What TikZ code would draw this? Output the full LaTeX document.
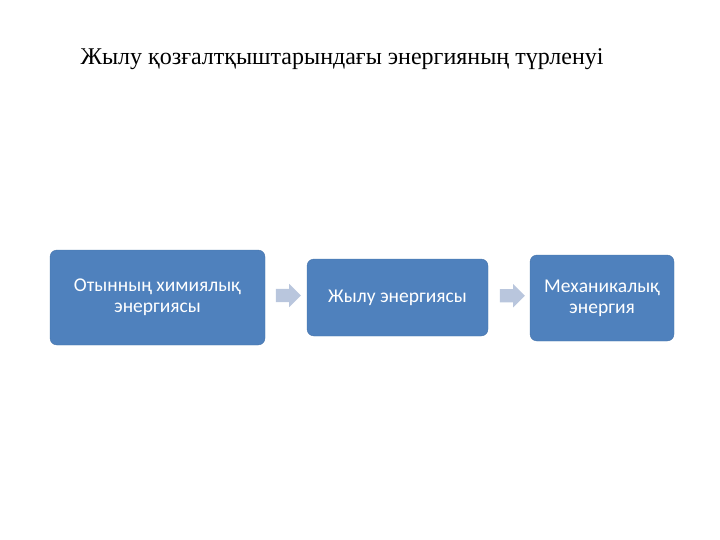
\documentclass[tikz,border=0pt]{standalone}
\usepackage{fontspec}
\setmainfont{Liberation Serif}
\newfontfamily\boxfont{Carlito}
\usetikzlibrary{shapes.arrows,calc}
\definecolor{boxblue}{HTML}{4F81BD}
\definecolor{arrowblue}{HTML}{B9C6DD}
\begin{document}
\begin{tikzpicture}[x=1pt,y=-1pt,
  procbox/.style={fill=boxblue,draw=boxblue!90!black,line width=0.4pt,rounded corners=7pt,text=white,font=\boxfont\fontsize{19.5}{21}\selectfont,align=center,inner sep=0pt},
  flowarrow/.style={single arrow,fill=arrowblue,draw=none,minimum height=25pt,inner xsep=0pt,inner ysep=6.5pt,single arrow head extend=5pt,shape border rotate=0}]
\useasboundingbox (0,0) rectangle (720,540);
\node[anchor=base west,font=\fontsize{24}{28}\selectfont] (title) at (77,65) {Жылу қозғалтқыштарындағы энергияның түрленуі};
\node[procbox,minimum width=215pt,minimum height=95pt] (b1) at (157.5,297.5) {Отынның химиялық\\энергиясы};
\node[procbox,minimum width=181pt,minimum height=77pt] (b2) at (397.5,297.5) {Жылу энергиясы};
\node[procbox,minimum width=144pt,minimum height=86pt] (b3) at (602,298) {Механикалық\\энергия};
\node[flowarrow] (a1) at ($(b1.east)!0.5!(b2.west)+(-1,-2)$) {};
\node[flowarrow] (a2) at ($(b2.east)!0.5!(b3.west)+(0,-2)$) {};
\end{tikzpicture}
\end{document}
